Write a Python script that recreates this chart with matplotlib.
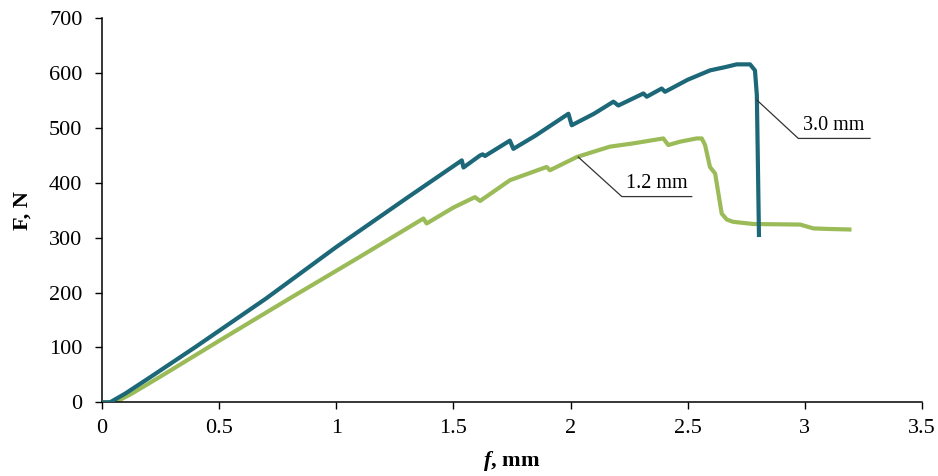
import matplotlib
matplotlib.use("Agg")
import matplotlib.pyplot as plt

plt.rcParams['font.family'] = ['Liberation Serif', 'DejaVu Serif']
plt.rcParams['mathtext.fontset'] = 'custom'
plt.rcParams['mathtext.bfit'] = 'Liberation Serif:italic:bold'
plt.rcParams['mathtext.rm'] = 'Liberation Serif'

# 3.0 mm specimen (teal)
f_30 = [0.0, 0.035, 0.10, 0.20, 0.40, 0.70, 1.00, 1.30, 1.536, 1.543, 1.614, 1.625,
        1.635, 1.741, 1.756, 1.85, 1.991, 2.005, 2.10, 2.183, 2.204, 2.311, 2.325,
        2.389, 2.403, 2.50, 2.595, 2.66, 2.709, 2.766, 2.787, 2.795, 2.80, 2.804]
F_30 = [0.0, 0.0, 16, 44, 101, 189, 283, 372, 441, 428, 450, 452, 449, 477, 462, 486,
        526, 505, 526, 548, 541, 563, 557, 572, 566, 588, 605, 611, 616, 616, 605,
        560, 420, 305]

# 1.2 mm specimen (green)
f_12 = [0.0, 0.056, 0.12, 0.25, 0.50, 0.80, 1.10, 1.372, 1.386, 1.50, 1.592, 1.614,
        1.742, 1.898, 1.912, 2.026, 2.10, 2.168, 2.268, 2.396, 2.417, 2.467, 2.538,
        2.560, 2.574, 2.595, 2.617, 2.645, 2.667, 2.694, 2.78, 2.98, 3.036, 3.10, 3.19]
F_12 = [0.0, 0.0, 14, 47, 112, 189, 265, 335, 326, 355, 374, 367, 405, 429, 423, 447,
        457, 466, 472, 481, 469, 475, 481, 481, 469, 429, 417, 344, 333, 329, 325,
        324, 317, 316, 315]

fig = plt.figure(figsize=(9.38, 4.76), dpi=100)
ax = fig.add_axes([0.1086, 0.1548, 0.8744, 0.8068])

ax.plot(f_30, F_30, color='#1d6878', lw=3.0, solid_joinstyle='round', zorder=3)
ax.plot(f_12, F_12, color='#9bbb59', lw=3.0, solid_joinstyle='round', zorder=2)

# leader lines and labels
ax.plot([2.033, 2.219, 2.517], [447, 375, 375], color='#333333', lw=0.9, zorder=4)
ax.text(2.37, 381, '1.2 mm', ha='center', va='bottom', fontsize=14.5)
ax.plot([2.795, 2.972, 3.278], [551, 481, 481], color='#333333', lw=0.9, zorder=4)
ax.text(3.125, 487, '3.0 mm', ha='center', va='bottom', fontsize=14.5)

ax.set_xlim(0, 3.5)
ax.set_ylim(0, 700)
ax.set_xticks([0, 0.5, 1, 1.5, 2, 2.5, 3, 3.5])
ax.set_xticklabels(['0', '0.5', '1', '1.5', '2', '2.5', '3', '3.5'])
ax.set_yticks(range(0, 701, 100))
ax.tick_params(labelsize=16, direction='out', length=5, width=1)
ax.tick_params(axis='y', pad=9)
ax.tick_params(axis='x', pad=7)
for s in ['top', 'right']:
    ax.spines[s].set_visible(False)
for s in ['left', 'bottom']:
    ax.spines[s].set_linewidth(1.1)

ax.set_ylabel('F, N', fontsize=16, fontweight='bold', labelpad=12)
ax.set_xlabel(r'$\mathbfit{f}$, mm', fontsize=16, fontweight='bold', labelpad=8)

fig.savefig('out.png', dpi=100)
